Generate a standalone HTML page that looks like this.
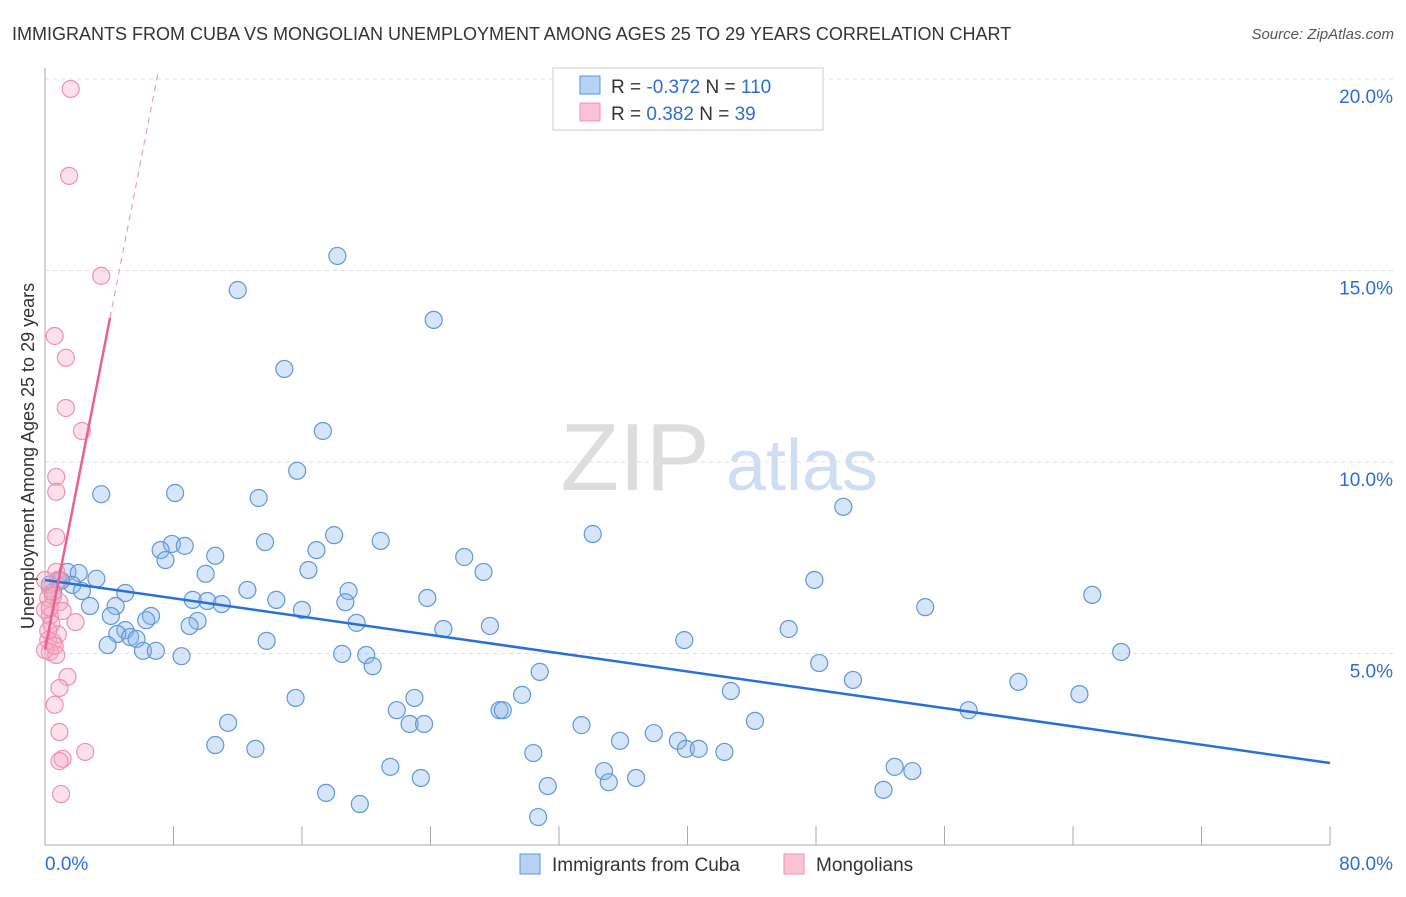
<!DOCTYPE html>
<html><head><meta charset="utf-8"><style>
body{margin:0;background:#fff;font-family:"Liberation Sans",sans-serif;}
svg text{font-family:"Liberation Sans",sans-serif;}
</style></head><body>
<svg id="chart" width="1406" height="892">
<text x="12" y="40" font-size="18" fill="#333">IMMIGRANTS FROM CUBA VS MONGOLIAN UNEMPLOYMENT AMONG AGES 25 TO 29 YEARS CORRELATION CHART</text>
<text x="1394" y="39" font-size="15" fill="#555" text-anchor="end" font-style="italic">Source: ZipAtlas.com</text>
<g>
<text x="635" y="490" font-size="96" fill="#ddd" font-family="Liberation Serif" text-anchor="middle">ZIP</text>
<text x="802" y="490" font-size="72" fill="#cfddf2" text-anchor="middle">atlas</text>
</g>
<g id="grid"></g>
<g id="axes"></g>
<g id="marks"></g>
<text transform="translate(34,456) rotate(-90)" font-size="18" fill="#333" text-anchor="middle">Unemployment Among Ages 25 to 29 years</text>
<g>
<rect x="553" y="68" width="270" height="62" fill="#fff" stroke="#ccc"/>
<rect x="580" y="76" width="20" height="18" fill="#b8d2f5" stroke="#5a93dc"/>
<rect x="580" y="103" width="20" height="18" fill="#f8c4d4" stroke="#f090b0"/>
<text x="611" y="93" font-size="19" fill="#333">R = <tspan fill="#2a6fd6">-0.372</tspan>   N = <tspan fill="#2a6fd6">110</tspan></text>
<text x="611" y="120" font-size="19" fill="#333">R =  <tspan fill="#2a6fd6">0.382</tspan>   N =  <tspan fill="#2a6fd6">39</tspan></text>
</g>
<g>
<rect x="520" y="854" width="20" height="20" fill="#b8d2f5" stroke="#5a93dc"/>
<text x="552" y="871" font-size="19" fill="#333">Immigrants from Cuba</text>
<rect x="784" y="854" width="20" height="20" fill="#f8c4d4" stroke="#f090b0"/>
<text x="816" y="871" font-size="19" fill="#333">Mongolians</text>
</g>
</svg>
<script>
const blueX=[18.2,12.0,24.2,14.9,17.3,15.7,3.5,8.1,13.3,49.7,34.1,18.0,13.7,20.9,7.9,8.7,7.2,16.9,10.6,7.5,26.1,16.4,27.3,10.0,1.4,2.1,3.2,47.9,0.8,1.7,12.6,5.0,18.9,2.3,65.2,23.8,14.4,9.2,10.1,18.7,11.0,2.8,4.4,54.8,16.0,4.1,6.6,6.3,9.5,19.4,9.0,27.7,24.8,46.3,5.0,4.5,5.3,5.7,39.8,13.8,3.9,6.1,6.9,67.0,18.5,20.0,8.5,48.2,20.4,30.8,50.3,60.6,42.7,64.4,29.7,15.6,23.0,21.9,57.5,28.3,28.5,11.4,22.7,23.6,33.4,44.2,37.9,10.6,35.8,39.4,13.1,39.9,40.7,30.4,42.3,21.5,52.9,34.8,54.0,23.4,36.8,35.1,31.3,17.5,52.2,19.6,30.7,0.3,1.0,0.5];
const blueY=[15.38,14.49,13.71,12.43,10.81,9.77,9.16,9.19,9.06,8.83,8.12,8.09,7.91,7.94,7.86,7.81,7.70,7.70,7.55,7.44,7.52,7.18,7.13,7.08,7.13,7.10,6.95,6.92,6.92,6.79,6.66,6.58,6.63,6.63,6.53,6.45,6.40,6.40,6.37,6.34,6.29,6.24,6.24,6.21,6.14,5.98,5.98,5.87,5.85,5.80,5.72,5.72,5.64,5.64,5.61,5.51,5.43,5.38,5.35,5.33,5.22,5.07,5.07,5.04,4.99,4.96,4.93,4.75,4.67,4.52,4.31,4.26,4.02,3.94,3.92,3.84,3.84,3.52,3.52,3.52,3.52,3.19,3.16,3.16,3.13,3.24,2.92,2.61,2.72,2.72,2.51,2.51,2.51,2.40,2.43,2.04,2.04,1.93,1.93,1.75,1.75,1.64,1.54,1.36,1.44,1.07,0.73,6.8,6.9,6.6];
const pinkX=[1.6,1.5,3.5,0.6,1.3,1.3,2.3,0.7,0.7,0.7,0.7,0.9,0.3,0.2,0.9,1.1,0.3,0.4,1.9,0.2,0.5,0.3,0.7,1.4,0.9,0.6,0.9,2.5,1.1,0.9,1.0,0,0,0,0.5,0.3,0.8,0.2,0.6];
const pinkY=[19.74,17.47,14.86,13.29,12.72,11.41,10.81,9.61,9.22,8.04,7.13,6.92,6.71,6.45,6.34,6.11,5.98,5.77,5.82,5.35,5.30,5.04,4.96,4.39,4.10,3.66,2.95,2.43,2.25,2.19,1.33,6.92,6.14,5.09,6.5,6.2,5.5,5.6,5.2];
const blueTrend=[6.92,2.14];
const pinkTrend=[5.1,2.14];
const xTicks=[0,8,16,24,32,40,48,56,64,72,80];
const yTicks=[5,10,15,20];
const NS='http://www.w3.org/2000/svg';
const sx=v=>45+v/80*1285, sy=v=>845-v*38.3;
function mk(t,a,p){const e=document.createElementNS(NS,t);for(const k in a)e.setAttribute(k,a[k]);p.appendChild(e);return e;}
const grid=document.getElementById('grid'),axes=document.getElementById('axes'),marks=document.getElementById('marks');
yTicks.forEach(v=>{
 const l=mk('line',{x1:45,x2:1394,y1:sy(v),y2:sy(v),stroke:'#ddd','stroke-dasharray':'4,4'},grid);
 
 
 const t=mk('text',{x:1393,y:sy(v)+24,'font-size':19,fill:'#2a6fd6','text-anchor':'end'},axes);
 t.textContent=v.toFixed(1)+'%';
 
 
});
const ax=mk('path',{d:'M45,68 V845 H1330',stroke:'#aaa',fill:'none'},axes);


xTicks.forEach(v=>{
 const l=mk('line',{x1:sx(v),x2:sx(v),y1:826,y2:845,stroke:'#aaa'},axes);
 
 
});
[[0,'start',45],[80,'end',1393]].forEach(([v,a,x])=>{
 const t=mk('text',{x:x,y:870,'font-size':19,fill:'#2a6fd6','text-anchor':a},axes);
 t.textContent=v.toFixed(1)+'%';
 
 
});
blueX.forEach((x,i)=>{
 const c=mk('circle',{cx:sx(x),cy:sy(blueY[i]),r:8.5,fill:'rgba(140,180,235,0.35)',stroke:'#5f97dd','stroke-width':1.2},marks);
 
 
});
pinkX.forEach((x,i)=>{
 const c=mk('circle',{cx:sx(x),cy:sy(pinkY[i]),r:8.5,fill:'rgba(245,170,195,0.35)',stroke:'#f08fb0','stroke-width':1.2},marks);
 
 
});
const bt=mk('line',{x1:sx(0),y1:sy(blueTrend[0]),x2:sx(80),y2:sy(blueTrend[1]),stroke:'#2a6fd6','stroke-width':2.5},marks);


const pEnd=4.05, pTop=(20.2-pinkTrend[0])/pinkTrend[1];
const ps=mk('line',{x1:sx(0),y1:sy(pinkTrend[0]),x2:sx(pEnd),y2:sy(pinkTrend[0]+pinkTrend[1]*pEnd),stroke:'#e8628f','stroke-width':2.5},marks);


const pd=mk('line',{x1:sx(pEnd),y1:sy(pinkTrend[0]+pinkTrend[1]*pEnd),x2:sx(pTop),y2:sy(20.2),stroke:'#e8a0b8','stroke-width':1.2,'stroke-dasharray':'6,5'},marks);


</script>
</body></html>
